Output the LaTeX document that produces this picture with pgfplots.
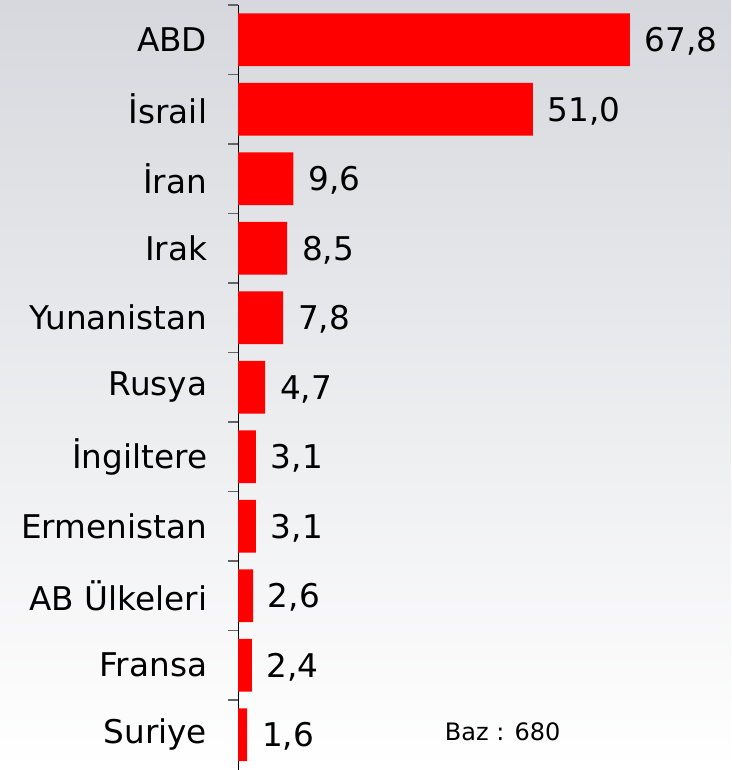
\documentclass[border=0pt]{standalone}
\usepackage{pgfplots}
\pgfplotsset{compat=1.18}
\usepackage{fontspec}
\setmainfont{DejaVu Sans}
\definecolor{bgtop}{RGB}{214,216,221}
\definecolor{bgmid}{RGB}{236,237,240}
\definecolor{tickgray}{RGB}{100,100,100}

\begin{document}
\begin{tikzpicture}[x=1pt,y=1pt]
% page = 731 x 770 px at 0.75pt per px
\shade[top color=bgtop, middle color=bgmid, bottom color=white]
  (0,0) rectangle (548.25,577.5);
\begin{axis}[
  at={(178.5pt,0.375pt)}, anchor=south west,
  scale only axis,
  width=369.75pt, height=573.4pt,
  xbar, bar width=0.76,
  y dir=reverse,
  xmin=0, xmax=85.3,
  ymin=-0.5, ymax=10.5,
  axis x line=none,
  axis y line*=left,
  axis line style={black, line width=0.75pt},
  ytick={0,...,10},
  yticklabels={ABD,İsrail,İran,Irak,Yunanistan,Rusya,İngiltere,Ermenistan,AB Ülkeleri,Fransa,Suriye},
  major tick length=0pt,
  minor ytick={-0.5,0.5,...,9.5},
  minor tick length=7.5pt,
  tick align=outside,
  every minor tick/.append style={draw=tickgray, line width=1.2pt},
  yticklabel style={font=\fontsize{24.5}{29}\selectfont, inner sep=0pt, xshift=-23pt},
  nodes near coords,
  nodes near coords style={font=\fontsize{24.5}{29}\selectfont, black, inner sep=0pt, xshift=11pt, yshift=-1.5pt, anchor=west},
  /pgf/number format/.cd, fixed, fixed zerofill, precision=1, use comma, assume math mode=true,
  /pgfplots/.cd,
  clip=false,
]
\addplot[fill=red, draw=none] coordinates {
  (67.8,0) (51.0,1) (9.6,2) (8.5,3) (7.8,4) (4.7,5) (3.1,6) (3.1,7) (2.6,8) (2.4,9) (1.6,10)
};
\node[font=\fontsize{18}{22}\selectfont, anchor=center] at (axis cs:45.8,9.95) {Baz : 680};
\end{axis}
\end{tikzpicture}
\end{document}
